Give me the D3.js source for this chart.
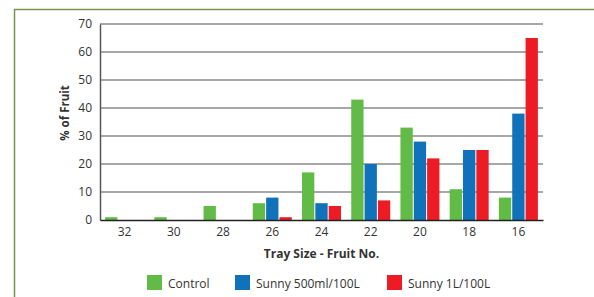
<!DOCTYPE html>
<html>
<head>
<meta charset="utf-8">
<script src="https://cdn.jsdelivr.net/npm/d3@7"></script>
<style>
  body { margin: 0; background: #fff; }
  svg text { font-family: "Open Sans", "DejaVu Sans", sans-serif; fill: #333; }
</style>
</head>
<body>
<div id="chart"></div>
<script>
var traySizes = ["32", "30", "28", "26", "24", "22", "20", "18", "16"]
var seriesNames = ["Control", "Sunny 500ml/100L", "Sunny 1L/100L"]
var seriesColors = ["#62bb46", "#1072ba", "#ed1c24"]
var control = [1, 1, 5, 6, 17, 43, 33, 11, 8]
var sunny500 = [0, 0, 0, 8, 6, 20, 28, 25, 38]
var sunny1L = [0, 0, 0, 1, 5, 7, 22, 25, 65]
var yTicks = [0, 10, 20, 30, 40, 50, 60, 70]

var allSeries = [control, sunny500, sunny1L]

var width = 594
var height = 297
var margin = {top: 24, right: 51, bottom: 77, left: 100}
var plotW = width - margin.left - margin.right
var plotH = height - margin.top - margin.bottom

var svg = d3.select("#chart").append("svg")
  .attr("width", width)
  .attr("height", height)

// outer frame (only top and left edges show)
svg.append("path")
  .attr("d", "M14.5," + height + "V9.5H" + width)
  .attr("fill", "none")
  .attr("stroke", "#7a9250")
  .attr("stroke-width", 1.5)

var x = d3.scaleBand()
  .domain(traySizes)
  .range([0, plotW])

var inner = d3.scaleBand()
  .domain(seriesNames)
  .range([-19.5, 19.5])
  .paddingInner(0.077)

var y = d3.scaleLinear()
  .domain([0, 70])
  .range([plotH, 0])

var main = svg.append("g")
  .attr("transform", "translate(" + margin.left + "," + margin.top + ")")

// gridlines
main.append("g")
  .selectAll("line")
  .data(yTicks.filter(function(d) { return d > 0 }))
  .enter().append("line")
  .attr("x1", 0)
  .attr("x2", plotW)
  .attr("y1", function(d) { return y(d) })
  .attr("y2", function(d) { return y(d) })
  .attr("stroke", "#8a8a8a")
  .attr("stroke-width", 1.6)

// bars
allSeries.forEach(function(vals, s) {
  main.append("g")
    .selectAll("rect")
    .data(vals)
    .enter().append("rect")
    .attr("x", function(d, i) { return x(traySizes[i]) + x.bandwidth() / 2 + inner(seriesNames[s]) })
    .attr("width", inner.bandwidth())
    .attr("y", function(d) { return y(d) })
    .attr("height", function(d) { return plotH - y(d) })
    .attr("fill", seriesColors[s])
})

// y axis
var yAxis = d3.axisLeft(y).tickValues(yTicks).tickSize(0).tickPadding(8)
var yg = main.append("g").call(yAxis)
yg.select(".domain").attr("stroke", "#555").attr("stroke-width", 1.5)
yg.selectAll("text").attr("font-size", 12).style("fill", "#333")

// x axis
var xAxis = d3.axisBottom(x).tickSize(0).tickPadding(7)
var xg = main.append("g")
  .attr("transform", "translate(0," + plotH + ")")
  .call(xAxis)
xg.select(".domain").attr("stroke", "#222").attr("stroke-width", 1.5)
xg.selectAll("text").attr("font-size", 12).style("fill", "#333")

// axis titles
svg.append("text")
  .attr("transform", "translate(69,113) rotate(-90)")
  .attr("text-anchor", "middle")
  .attr("font-size", 11.5)
  .attr("font-weight", "bold")
  .text("% of Fruit")

svg.append("text")
  .attr("x", margin.left + plotW / 2)
  .attr("y", 258)
  .attr("text-anchor", "middle")
  .attr("font-size", 12)
  .attr("font-weight", "bold")
  .text("Tray Size - Fruit No.")

// legend
var legendX = [147, 235, 387]
var legend = svg.append("g")
  .selectAll("g")
  .data(seriesNames)
  .enter().append("g")
  .attr("transform", function(d, i) { return "translate(" + legendX[i] + ",275)" })

legend.append("rect")
  .attr("width", 15)
  .attr("height", 15)
  .attr("fill", function(d, i) { return seriesColors[i] })

legend.append("text")
  .attr("x", 21)
  .attr("y", 12.5)
  .attr("font-size", 12)
  .text(function(d) { return d })
</script>
</body>
</html>
